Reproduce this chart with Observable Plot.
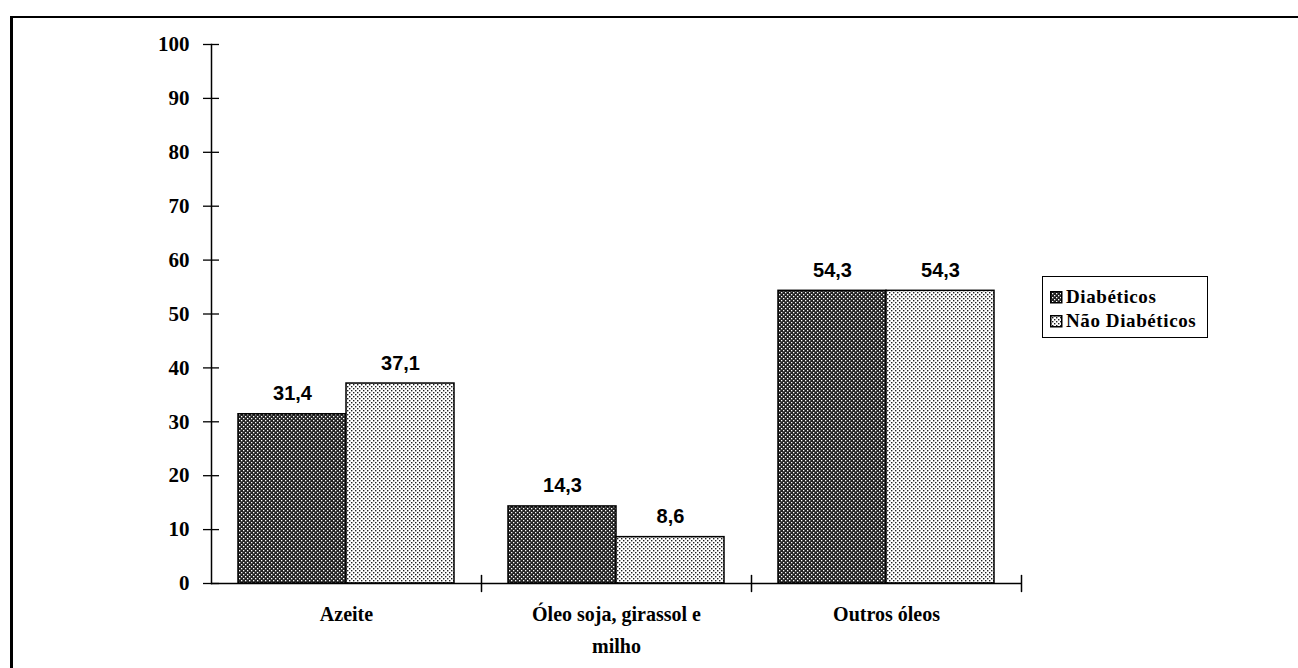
<!DOCTYPE html>
<html>
<head>
<meta charset="utf-8">
<script src="https://cdn.jsdelivr.net/npm/d3@7"></script>
<script src="https://cdn.jsdelivr.net/npm/@observablehq/plot@0.6"></script>
<style>
  html, body { margin: 0; padding: 0; background: #fff; }
  #wrap { position: relative; width: 1298px; height: 668px; overflow: hidden; }
  #border { position: absolute; left: 10px; top: 16px; width: 1300px; height: 700px;
            border-left: 3px solid #000; border-top: 2px solid #000; box-sizing: border-box; }
  #chart { position: absolute; left: 0; top: 0; }
  #legend { position: absolute; left: 1042px; top: 276px; width: 166px; height: 62px;
            border: 1.5px solid #000; box-sizing: border-box; background: #fff;
            font-family: "Liberation Serif", "Times New Roman", serif; font-weight: bold;
            font-size: 19px; color: #000; }
  .item { position: absolute; left: 7px; display: flex; align-items: center; white-space: nowrap; }
  .item svg { margin-right: 3px; }
</style>
</head>
<body>
<svg width="0" height="0" style="position:absolute">
  <defs>
    <pattern id="pd" width="4" height="4" patternUnits="userSpaceOnUse">
      <rect width="4" height="4" fill="#222"/>
      <rect x="0" y="0" width="1.3" height="1.3" fill="#fff"/>
      <rect x="2" y="2" width="1.3" height="1.3" fill="#fff"/>
    </pattern>
    <pattern id="pl" width="4" height="4" patternUnits="userSpaceOnUse">
      <rect width="4" height="4" fill="#fff"/>
      <rect x="0" y="0" width="1.4" height="1.4" fill="#1e1e1e"/>
      <rect x="2" y="2" width="1.4" height="1.4" fill="#1e1e1e"/>
    </pattern>
  </defs>
</svg>
<div id="wrap">
  <div id="border"></div>
  <div id="chart"></div>
  <div id="legend"></div>
</div>
<script>
// ---- data ----
const categories = ["Azeite", "Óleo soja, girassol e milho", "Outros óleos"];
const categoryLabels = ["Azeite", "Óleo soja, girassol e\nmilho", "Outros óleos"];
const series = ["Diabéticos", "Não Diabéticos"];
const diabeticos = [31.4, 14.3, 54.3];
const naoDiabeticos = [37.1, 8.6, 54.3];
const yTicks = [0, 10, 20, 30, 40, 50, 60, 70, 80, 90, 100];

const fills = {"Diabéticos": "url(#pd)", "Não Diabéticos": "url(#pl)"};
const data = [];
categories.forEach((c, i) => {
  data.push({cat: c, series: series[0], value: diabeticos[i]});
  data.push({cat: c, series: series[1], value: naoDiabeticos[i]});
});
const fmt = v => d3.format(".1f")(v).replace(".", ",");
const labelOf = c => categoryLabels[categories.indexOf(c)];

const serif = "Liberation Serif, Times New Roman, serif";
const sans = "Liberation Sans, Arial, sans-serif";

const tickShape = {
  draw(context, l) { context.moveTo(0, 0); context.lineTo(0, -l); }
};

const plot = Plot.plot({
  width: 1298,
  height: 668,
  marginLeft: 210,
  marginRight: 277,
  marginTop: 44,
  marginBottom: 85,
  style: {fontFamily: serif, fontSize: "21px", fontWeight: "bold", color: "#000", background: "transparent"},
  fx: {domain: categories, padding: 0, axis: null, label: null},
  x: {domain: series, paddingInner: 0, paddingOuter: 0.25, axis: null, label: null},
  y: {domain: [0, 100], axis: null, label: null},
  marks: [
    ...series.map(s => Plot.barY(data.filter(d => d.series === s), {
      fx: "cat", x: "series", y: "value", fill: fills[s], stroke: "#000", strokeWidth: 1.5
    })),
    Plot.text(data, {
      fx: "cat", x: "series", y: "value", text: d => fmt(d.value),
      lineAnchor: "bottom", dy: -14, fontFamily: sans, fontSize: 20, fontWeight: "bold",
      fill: "#000", style: "letter-spacing:2px"
    }),
    Plot.ruleY([0], {stroke: "#000", strokeWidth: 1.5}),
    Plot.frame({anchor: "left", facetAnchor: "left", stroke: "#000", strokeWidth: 1.5}),
    Plot.axisY({ticks: yTicks, tickSize: 8, tickPadding: 14, label: null, tickFormat: d => String(d),
      fontFamily: serif, fontWeight: "bold", stroke: "#000", strokeWidth: 1.3}),
    Plot.axisY({ticks: yTicks, tickSize: 8, dx: 8, label: null, tickFormat: () => "",
      stroke: "#000", strokeWidth: 1.3}),
    Plot.vector(categories, {fx: d => d, frameAnchor: "bottom-right", length: 16, anchor: "middle",
      shape: tickShape, stroke: "#000", strokeWidth: 1.5, rotate: 0}),
    Plot.text(categories, {fx: d => d, text: labelOf, frameAnchor: "bottom", lineAnchor: "top",
      dy: 15, lineHeight: 1.6, fontFamily: serif, fontSize: 20, fontWeight: "bold", fill: "#000"})
  ]
});
document.getElementById("chart").appendChild(plot);

// ---- legend ----
const legend = d3.select("#legend");
series.forEach((s, i) => {
  const item = legend.append("div").attr("class", "item").style("top", (i === 0 ? 9 : 33) + "px");
  const sw = item.append("svg").attr("width", 13).attr("height", 13);
  sw.append("rect").attr("x", 0.75).attr("y", 0.75).attr("width", 11).attr("height", 11)
    .attr("fill", fills[s]).attr("stroke", "#000").attr("stroke-width", 1.5);
  item.append("span").text(s).style("letter-spacing", "0.6px");
});
</script>
</body>
</html>
